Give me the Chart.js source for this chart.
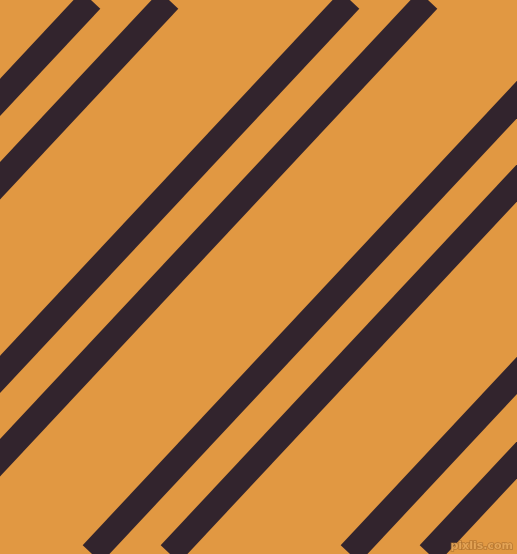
<!DOCTYPE html>
<html>
<head>
<meta charset="utf-8">
<script src="https://cdn.jsdelivr.net/npm/chart.js@4"></script>
<style>
  html, body { margin: 0; padding: 0; background: #E19842; overflow: hidden; }
  #wrap { position: relative; width: 517px; height: 554px; }
</style>
</head>
<body>
<div id="wrap"><canvas id="c"></canvas></div>
<script>
// Stripe centre crossings
const stripeNames = ["s1", "s2", "s3", "s4", "s5", "s6", "s7", "s8"];
const topX    = [91, 169, 350, 428, 610, 688, 868, 947];     // x where stripe meets y = 0
const bottomX = [-427, -349, -168, -90, 92, 170, 350, 429];  // x where stripe meets y = 554
const edgeY   = [0, 554];

const bgColor = "#E19842";
const stripeColor = "#32242D";

const datasets = stripeNames.map((name, i) => ({
  label: name,
  data: [{ x: topX[i], y: edgeY[0] }, { x: bottomX[i], y: edgeY[1] }],
  borderColor: stripeColor,
  backgroundColor: stripeColor,
  borderWidth: 25.5,
  borderCapStyle: "butt",
  pointRadius: 0,
  pointHoverRadius: 0,
  showLine: true,
  fill: false,
  tension: 0
}));

const bgPlugin = {
  id: "bg",
  beforeDraw(chart) {
    const ctx = chart.ctx;
    ctx.save();
    ctx.fillStyle = bgColor;
    ctx.fillRect(0, 0, chart.width, chart.height);
    ctx.restore();
  },
  afterDraw(chart) {
    const ctx = chart.ctx;
    ctx.save();
    ctx.font = "bold 11px 'DejaVu Sans'";
    ctx.textAlign = "right";
    ctx.textBaseline = "bottom";
    ctx.lineWidth = 1.5;
    ctx.strokeStyle = "rgba(150,95,40,0.55)";
    ctx.strokeText("pixlis.com", 513, 552);
    ctx.fillStyle = "rgba(232,168,90,0.9)";
    ctx.fillText("pixlis.com", 513, 552);
    ctx.restore();
  }
};

new Chart(document.getElementById("c"), {
  type: "scatter",
  data: { datasets },
  plugins: [bgPlugin],
  options: {
    responsive: true,
    maintainAspectRatio: false,
    animation: false,
    layout: { padding: 0 },
    plugins: { legend: { display: false }, tooltip: { enabled: false } },
    events: [],
    scales: {
      x: { type: "linear", min: 0, max: 517, display: false },
      y: { type: "linear", min: 0, max: 554, reverse: true, display: false }
    }
  }
});
</script>
</body>
</html>
